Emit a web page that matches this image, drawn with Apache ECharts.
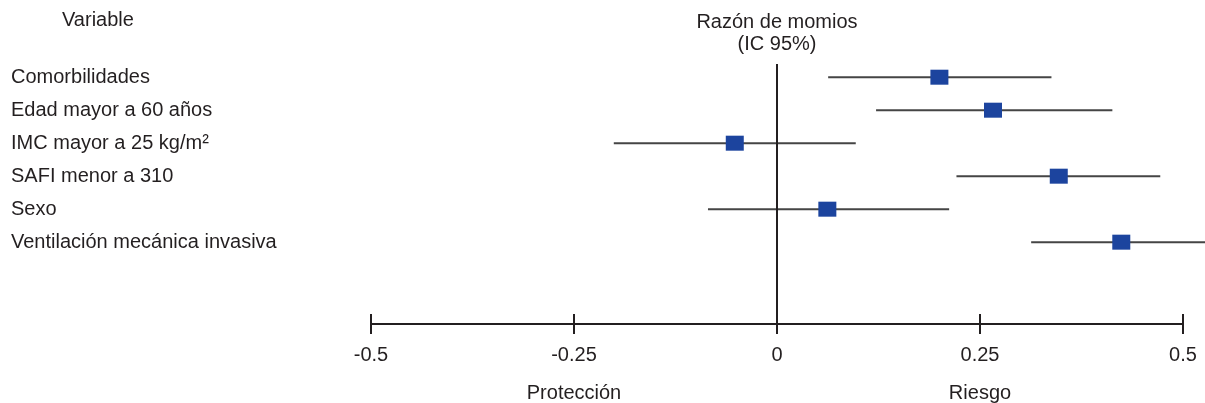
<!DOCTYPE html>
<html>
<head>
<meta charset="utf-8">
<script src="https://cdn.jsdelivr.net/npm/echarts@6/dist/echarts.min.js"></script>
<style>
html,body{margin:0;padding:0;background:#fff;}
#main{width:1205px;height:403px;}
</style>
</head>
<body>
<div id="main"></div>
<script>
// ---- data ----
const categories = ['Comorbilidades', 'Edad mayor a 60 años', 'IMC mayor a 25 kg/m²', 'SAFI menor a 310', 'Sexo', 'Ventilación mecánica invasiva'];
const estimates = [0.200, 0.266, -0.052, 0.347, 0.062, 0.424];
const lower = [0.063, 0.122, -0.201, 0.221, -0.085, 0.313];
const upper = [0.338, 0.413, 0.097, 0.472, 0.212, 0.540];
const xTicks = [-0.5, -0.25, 0, 0.25, 0.5];
const headerVariable = 'Variable';
const headerEffect = ['Razón de momios', '(IC 95%)'];
const sideLabels = [{ text: 'Protección', at: -0.25 }, { text: 'Riesgo', at: 0.25 }];

const FONT = 'Liberation Sans, Arial, Helvetica, sans-serif';
const TXT = '#231f20';
const rows = categories.map((c, i) => i + 1);

const chart = echarts.init(document.getElementById('main'), null, { renderer: 'canvas' });

const option = {
  animation: false,
  backgroundColor: '#ffffff',
  grid: { left: 371, right: 22, top: 64, bottom: 79, containLabel: false },
  xAxis: [
    {
      type: 'value', min: xTicks[0], max: xTicks[xTicks.length - 1], interval: 0.25,
      position: 'bottom',
      axisLine: { show: true, onZero: false, lineStyle: { color: TXT, width: 2 } },
      axisTick: { show: true, inside: false, length: 10, lineStyle: { color: TXT, width: 2 } },
      axisLabel: { show: true, margin: 21, fontSize: 20, fontFamily: FONT, color: TXT,
        formatter: v => String(v) },
      splitLine: { show: false }
    },
    {
      type: 'value', min: xTicks[0], max: xTicks[xTicks.length - 1], interval: 0.25,
      position: 'bottom', offset: 0,
      axisLine: { show: false, onZero: false },
      axisTick: { show: true, inside: true, length: 10, lineStyle: { color: TXT, width: 2 } },
      axisLabel: { show: false },
      splitLine: { show: false }
    }
  ],
  yAxis: {
    type: 'value', inverse: true, min: 0.6, max: 8.48,
    axisLine: { show: false, onZero: false },
    axisTick: { show: false },
    splitLine: { show: false },
    axisLabel: {
      show: true, customValues: rows, align: 'left', margin: 360,
      fontSize: 20, fontFamily: FONT, color: TXT,
      formatter: v => categories[Math.round(v) - 1] || ''
    }
  },
  series: [
    {
      type: 'custom',
      name: 'IC',
      clip: false,
      data: categories.map((c, i) => [lower[i], upper[i], i + 1]),
      encode: { x: [0, 1], y: 2 },
      renderItem: function (params, api) {
        const p1 = api.coord([api.value(0), api.value(2)]);
        const p2 = api.coord([api.value(1), api.value(2)]);
        return {
          type: 'line',
          shape: { x1: p1[0], y1: p1[1], x2: p2[0], y2: p2[1] },
          style: { stroke: '#454545', lineWidth: 2 }
        };
      },
      markLine: {
        silent: true, symbol: 'none', animation: false,
        label: { show: false },
        lineStyle: { color: TXT, width: 2, type: 'solid' },
        data: [{ xAxis: 0 }]
      },
      z: 2
    },
    {
      type: 'scatter',
      name: 'OR',
      data: categories.map((c, i) => [estimates[i], i + 1]),
      symbol: 'rect',
      symbolSize: [18, 15],
      itemStyle: { color: '#1c449e', opacity: 1 },
      z: 5
    }
  ]
};

chart.setOption(option);

const x0 = chart.convertToPixel({ xAxisIndex: 0 }, 0);
const gfx = [
  { type: 'text', left: 62, top: 10, style: { text: headerVariable, fontSize: 20, fontFamily: FONT, fill: TXT } },
  { type: 'text', x: x0, y: 11, style: { text: headerEffect.join('\n'), fontSize: 20, lineHeight: 22, fontFamily: FONT, fill: TXT, align: 'center', verticalAlign: 'top' } }
];
sideLabels.forEach(s => {
  gfx.push({ type: 'text', x: chart.convertToPixel({ xAxisIndex: 0 }, s.at), y: 393,
    style: { text: s.text, fontSize: 20, fontFamily: FONT, fill: TXT, align: 'center', verticalAlign: 'middle' } });
});
chart.setOption({ graphic: gfx });
</script>
</body>
</html>
